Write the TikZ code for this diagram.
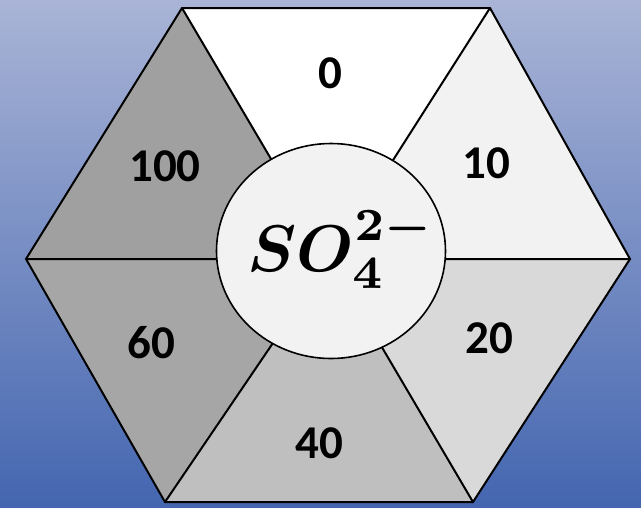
\documentclass[tikz,border=0pt]{standalone}
\usepackage{fontspec}
\usepackage{amsmath}
\usepackage{bm}
\newfontfamily\labelfont{Carlito}
\definecolor{bgtop}{HTML}{A9B4D6}
\definecolor{bgbot}{HTML}{4466B0}
\definecolor{segA}{HTML}{FFFFFF}
\definecolor{segB}{HTML}{F2F2F2}
\definecolor{segC}{HTML}{D9D9D9}
\definecolor{segD}{HTML}{BFBFBF}
\definecolor{segE}{HTML}{A6A6A6}
\definecolor{segF}{HTML}{A0A0A0}
\definecolor{hubfill}{HTML}{F2F2F2}
\begin{document}
\begin{tikzpicture}[x=1pt,y=-1pt,
  seg/.style={draw=black,line width=2pt,line join=miter},
  lbl/.style={font=\labelfont\bfseries\fontsize{47}{50}\selectfont,inner sep=0pt,text=black},
  hub/.style={draw=black,line width=1.6pt,fill=hubfill}]
\useasboundingbox (0,0) rectangle (641,507);
\shade[top color=bgtop,bottom color=bgbot] (0,0) rectangle (641,507);
\coordinate (TL) at (182,8);
\coordinate (TR) at (490,8);
\coordinate (R) at (630,259);
\coordinate (BR) at (473,502);
\coordinate (BL) at (165,502);
\coordinate (L) at (26,259);
\coordinate (C) at (330,259);
\fill[segA] (TL) -- (TR) -- (C) -- cycle;
\fill[segB] (TR) -- (R) -- (C) -- cycle;
\fill[segC] (R) -- (BR) -- (C) -- cycle;
\fill[segD] (BR) -- (BL) -- (C) -- cycle;
\fill[segE] (BL) -- (L) -- (C) -- cycle;
\fill[segF] (L) -- (TL) -- (C) -- cycle;
\draw[seg] (TL) -- (TR) -- (R) -- (BR) -- (BL) -- (L) -- cycle;
\draw[seg] (TL) -- (C) (TR) -- (C) (R) -- (C) (BR) -- (C) (BL) -- (C) (L) -- (C);
\draw[hub] (331,251) ellipse [x radius=114.5, y radius=107.5];
\node[inner sep=0pt,scale=6.6] (formula) at (341,249) {$\bm{SO_4^{2-}}$};
\node[lbl] (l0) at (330,73) {0};
\node[lbl] (l10) at (486,163) {10};
\node[lbl] (l20) at (489,338) {20};
\node[lbl] (l40) at (319,443) {40};
\node[lbl] (l60) at (151,343) {60};
\node[lbl] (l100) at (165,166) {100};
\end{tikzpicture}
\end{document}
